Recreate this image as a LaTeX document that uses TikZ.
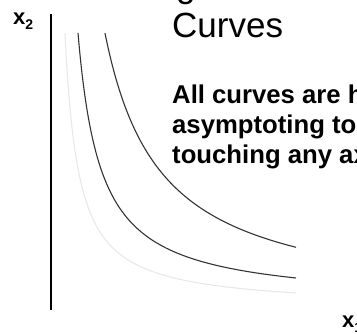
\documentclass[tikz,border=0pt]{standalone}
\usepackage{fontspec}
\setmainfont{Liberation Sans}
\usepackage{tikz}
\usetikzlibrary{positioning}

\begin{document}
\begin{tikzpicture}[
  x=1pt, y=-1pt,
  axis/.style={line width=1.6pt, black},
  curve/.style={line width=1.1pt, black!80},
  faint/.style={line width=1.1pt, black!9},
  title/.style={inner sep=0pt, anchor=base west, font=\fontsize{35}{40}\selectfont},
  body/.style={inner sep=0pt, anchor=base west, align=left,
    font=\bfseries\fontsize{25.7}{30}\selectfont},
  lbl/.style={inner sep=0pt, anchor=base west, font=\bfseries\fontsize{22}{24}\selectfont},
]
  \useasboundingbox (0,0) rectangle (357,333);

  % axis and labels
  \draw[axis] (51,14) -- (51,310);
  \node[lbl] (xtwo) at (13,24) {x\raisebox{-5pt}{\fontsize{14}{14}\selectfont 2}};
  \node[lbl] (xone) at (342,327) {x\raisebox{-5pt}{\fontsize{14}{14}\selectfont 1}};

  % three indifference curves (hyperbolas)
  \draw[faint] plot[smooth, domain=65:296, samples=300] (\x, {308-3680/(\x-51.6)});
  \draw[curve] plot[smooth, domain=78:296, samples=300] (\x, {303.5-6145/(\x-55.3)});
  \draw[curve] plot[smooth, domain=105:296, samples=300] (\x, {309.5-15340/(\x-49.5)});

  % heading and note (base of a multi-line node = its last line)
  \node[title] (head) at (176,-3) {g};
  \node[title] (title) at (172,37.5) {Curves};
  \node[body] (note) at (172,163) {All curves are h\\asymptoting to\\touching any ax};
\end{tikzpicture}
\end{document}
